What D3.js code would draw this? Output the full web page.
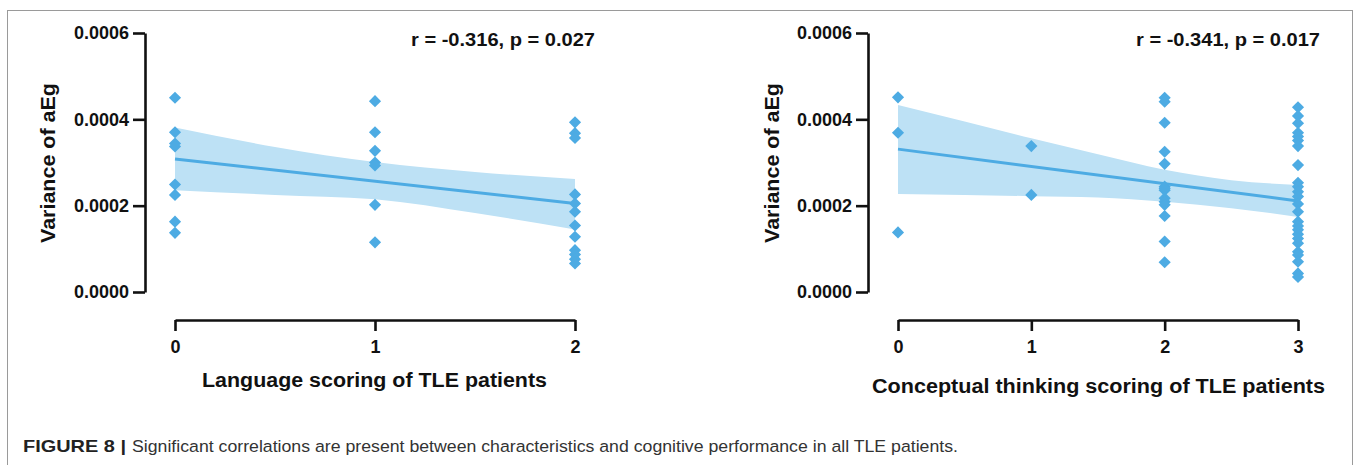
<!DOCTYPE html>
<html>
<head>
<meta charset="utf-8">
<script src="https://cdn.jsdelivr.net/npm/d3@7"></script>
<style>
	body { margin: 0; background: #fff; }
	svg { display: block; font-family: "Liberation Sans", Arial, sans-serif; }
</style>
</head>
<body>
<svg></svg>
<script>
// values

const yTicks = [0, 0.0002, 0.0004, 0.0006]

// left panel: language scoring
const langTicks = [0, 1, 2]
const langScore = [0,0,0,0,0,0,0,0, 1,1,1,1,1,1,1, 2,2,2,2,2,2,2,2,2,2,2,2]
const langVar = [
	0.000450, 0.000370, 0.000344, 0.000337, 0.000249, 0.000225, 0.000163, 0.000137,
	0.000442, 0.000370, 0.000327, 0.000300, 0.000293, 0.000202, 0.000115,
	0.000393, 0.000368, 0.000357, 0.000226, 0.000205, 0.000186, 0.000154, 0.000128, 0.000097, 0.000087, 0.000076, 0.000066
]
const langFitX = [0, 2]
const langFit = [0.000308, 0.000205]
const langBandX = [0, 0.5, 1, 1.5, 2]
const langBandHi = [0.000381, 0.000336, 0.000301, 0.000278, 0.000262]
const langBandLo = [0.000236, 0.000225, 0.000215, 0.000183, 0.000145]

// right panel: conceptual thinking scoring
const conTicks = [0, 1, 2, 3]
const conScore = [0,0,0, 1,1, 2,2,2,2,2,2,2,2,2,2,2,2,2,2,
	3,3,3,3,3,3,3,3,3,3,3,3,3,3,3,3,3,3,3,3,3,3,3,3,3]
const conVar = [
	0.000451, 0.000369, 0.000138,
	0.000338, 0.000225,
	0.000450, 0.000441, 0.000392, 0.000325, 0.000297, 0.000244, 0.000236, 0.000217, 0.000209, 0.000202, 0.000176, 0.000117, 0.000069, 0.000240,
	0.000428, 0.000408, 0.000391, 0.000369, 0.000360, 0.000351, 0.000338, 0.000294, 0.000253, 0.000244, 0.000232, 0.000221, 0.000204,
	0.000186, 0.000163, 0.000153, 0.000144, 0.000134, 0.000124, 0.000113, 0.000093, 0.000086, 0.000070, 0.000043, 0.000035
]
const conFitX = [0, 3]
const conFit = [0.000331, 0.000211]
const conBandX = [0, 0.5, 1, 1.5, 2, 2.5, 3]
const conBandHi = [0.000433, 0.000395, 0.000356, 0.000319, 0.000283, 0.000259, 0.000248]
const conBandLo = [0.000227, 0.000225, 0.000222, 0.000219, 0.000209, 0.000194, 0.000174]

const blue = "#4dabe3"
const bandBlue = "#bde1f5"

const svg = d3.select("svg")
	.attr("width", 1358)
	.attr("height", 465)

// figure frame
svg.append("rect")
	.attr("x", 7.5).attr("y", 10.5)
	.attr("width", 1345).attr("height", 470)
	.attr("fill", "none")
	.attr("stroke", "#9a9a9a")
	.attr("stroke-width", 1)

const drawPanel = function(p){
	const g = svg.append("g")

	const x = d3.scaleLinear()
		.domain([p.ticks[0], p.ticks[p.ticks.length - 1]])
		.range([p.x0, p.x1])
	const y = d3.scaleLinear()
		.domain([0, 0.0006])
		.range([292, 33])

	// confidence band
	const band = p.bandX.map((v, i) => ({x: v, lo: p.bandLo[i], hi: p.bandHi[i]}))
	g.append("path")
		.datum(band)
		.attr("fill", bandBlue)
		.attr("d", d3.area()
			.x(d => x(d.x))
			.y0(d => y(d.lo))
			.y1(d => y(d.hi))
			.curve(d3.curveMonotoneX))

	// fitted line
	g.append("path")
		.datum(p.fitX.map((v, i) => [v, p.fit[i]]))
		.attr("fill", "none")
		.attr("stroke", blue)
		.attr("stroke-width", 3)
		.attr("d", d3.line().x(d => x(d[0])).y(d => y(d[1])))

	// points
	g.selectAll("path.pt")
		.data(p.score.map((s, i) => [s, p.vals[i]]))
		.enter()
		.append("path")
		.attr("class", "pt")
		.attr("d", d3.symbol().type(d3.symbolSquare).size(74))
		.attr("transform", d => `translate(${x(d[0])},${y(d[1])}) rotate(45)`)
		.attr("fill", blue)

	// y axis
	const yAxis = g.append("g")
		.attr("transform", `translate(${p.axisX},0)`)
		.call(d3.axisLeft(y)
			.tickValues(yTicks)
			.tickFormat(d3.format(".4f"))
			.tickSize(12)
			.tickSizeOuter(0)
			.tickPadding(4))

	// x axis, detached below the plot
	const xAxis = g.append("g")
		.attr("transform", "translate(0,320)")
		.call(d3.axisBottom(x)
			.tickValues(p.ticks)
			.tickFormat(d3.format("d"))
			.tickSize(11)
			.tickSizeOuter(0)
			.tickPadding(9))

	;[yAxis, xAxis].forEach(a => {
		a.select(".domain").attr("stroke", "#111").attr("stroke-width", 2.6)
		a.selectAll(".tick line").attr("stroke", "#111").attr("stroke-width", 2.6)
		a.selectAll(".tick text")
			.attr("fill", "#111")
			.style("font-size", "18px")
			.style("font-weight", "bold")
	})

	// axis titles
	g.append("text")
		.attr("transform", `translate(${p.yTitleX},163) rotate(-90)`)
		.attr("text-anchor", "middle")
		.attr("fill", "#111")
		.style("font-size", "19.5px")
		.style("font-weight", "bold")
		.attr("textLength", 160)
		.attr("lengthAdjust", "spacingAndGlyphs")
		.text("Variance of aEg")

	g.append("text")
		.attr("x", p.xTitleX)
		.attr("y", p.xTitleY)
		.attr("text-anchor", "middle")
		.attr("fill", "#111")
		.style("font-size", "19.5px")
		.style("font-weight", "bold")
		.attr("textLength", p.xTitleW)
		.attr("lengthAdjust", "spacingAndGlyphs")
		.text(p.xTitle)

	// correlation note
	g.append("text")
		.attr("x", p.noteX)
		.attr("y", 46)
		.attr("text-anchor", "end")
		.attr("fill", "#111")
		.style("font-size", "18.5px")
		.style("font-weight", "bold")
		.attr("textLength", 184)
		.attr("lengthAdjust", "spacingAndGlyphs")
		.text(p.note)
}

drawPanel({
	ticks: langTicks, score: langScore, vals: langVar,
	fitX: langFitX, fit: langFit,
	bandX: langBandX, bandHi: langBandHi, bandLo: langBandLo,
	x0: 175, x1: 575, axisX: 145,
	yTitleX: 55, xTitleX: 374.5, xTitleY: 387, xTitleW: 345,
	xTitle: "Language scoring of TLE patients",
	noteX: 595, note: "r = -0.316, p = 0.027"
})

drawPanel({
	ticks: conTicks, score: conScore, vals: conVar,
	fitX: conFitX, fit: conFit,
	bandX: conBandX, bandHi: conBandHi, bandLo: conBandLo,
	x0: 898, x1: 1298, axisX: 868,
	yTitleX: 779, xTitleX: 1098.5, xTitleY: 393, xTitleW: 453,
	xTitle: "Conceptual thinking scoring of TLE patients",
	noteX: 1320, note: "r = -0.341, p = 0.017"
})

// caption
const caption = svg.append("text")
	.attr("y", 452)
	.attr("fill", "#333")
	.style("font-size", "16.3px")
caption.append("tspan")
	.attr("x", 23)
	.attr("fill", "#222")
	.style("font-weight", "bold")
	.attr("textLength", 103)
	.attr("lengthAdjust", "spacingAndGlyphs")
	.text("FIGURE 8 |")
caption.append("tspan")
	.attr("x", 132)
	.attr("textLength", 826)
	.attr("lengthAdjust", "spacingAndGlyphs")
	.text("Significant correlations are present between characteristics and cognitive performance in all TLE patients.")
</script>
</body>
</html>
